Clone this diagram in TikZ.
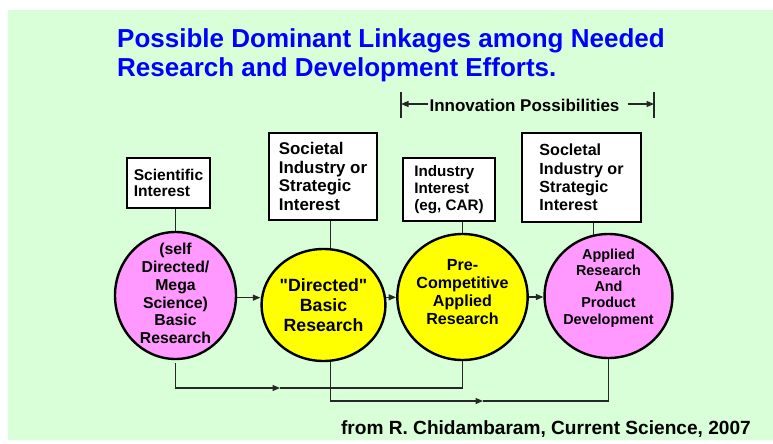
\documentclass[tikz,border=0pt]{standalone}
\usepackage{fontspec}
\setmainfont{Liberation Sans}
\usepackage{xcolor}
\usetikzlibrary{arrows.meta, positioning, calc, shapes.geometric}
\definecolor{pagegreen}{RGB}{217, 255, 217}
\definecolor{titleblue}{RGB}{0, 0, 255}
\definecolor{effortpink}{RGB}{255, 153, 255}
\definecolor{effortyellow}{RGB}{255, 255, 0}
\newcommand{\fsz}[2]{\fontsize{#1}{#2}\selectfont}

\begin{document}
\begin{tikzpicture}[
    x=1pt, y=-1pt,
    interest/.style={rectangle, draw=black, fill=white, line width=2.4pt,
                     align=left, inner sep=0pt},
    effort/.style={ellipse, draw=black, line width=2.4pt, align=center,
                   inner xsep=0pt, inner ysep=-25pt},
    arr/.style={-{Triangle[length=7.5pt, width=6pt]}, black!85, line width=1.2pt},
    link/.style={black!85, line width=1.2pt},
    lbl/.style={font=\bfseries}
  ]

  % Page
  \useasboundingbox (0,0) rectangle (773,444);
  \fill[pagegreen] (8,10) rectangle (773,440);

  % Title
  \node[anchor=north west, inner sep=0pt, align=left, text=titleblue,
        font=\bfseries\fsz{26}{29}] (title) at (117,28)
        {Possible Dominant Linkages among Needed\\Research and Development Efforts.};

  % Innovation bracket
  \node[lbl, font=\bfseries\fsz{17}{19}, anchor=base, inner sep=1pt] (innov)
        at (524.5,111) {Innovation Possibilities};
  \coordinate (innovL) at (401,104);
  \coordinate (innovR) at (654,104);
  \draw[link] ([yshift=12pt]innovL) -- ([yshift=-14pt]innovL);
  \draw[link] ([yshift=12pt]innovR) -- ([yshift=-14pt]innovR);
  \draw[arr] (innovL -| innov.west) -- (innovL);
  \draw[arr] ([xshift=7pt]innovR -| innov.east) -- (innovR);

  % Interests
  \node[interest, font=\bfseries\fsz{15.6}{16.7}, minimum width=83, minimum height=50]
        (b1) at (168.5,183) {Scientific\\Interest};
  \node[interest, font=\bfseries\fsz{16.9}{18.8}, minimum width=108, minimum height=87]
        (b2) at (323,176.5) {Societal\\Industry or\\Strategic\\Interest};
  \node[interest, font=\bfseries\fsz{15.2}{17.3}, minimum width=92, minimum height=63]
        (b3) at (449,189.5) {Industry\\Interest\\(eg, CAR)};
  \node[interest, font=\bfseries\fsz{16.1}{18.2}, minimum width=119, minimum height=89]
        (b4) at (581.5,177.5) {Socletal\\Industry or\\Strategic\\Interest};

  % Efforts
  \node[effort, fill=effortpink, font=\bfseries\fsz{15.8}{17.8}, text depth=4pt,
        minimum width=121, minimum height=127]
        (e1) at (175.5,295.5) {(self\\Directed/\\Mega\\Science)\\Basic\\Research};
  \node[effort, fill=effortyellow, font=\bfseries\fsz{17.7}{20.3},
        minimum width=107, minimum height=112]
        (e2) at (323.5,305) {\textquotedbl Directed\textquotedbl\\Basic\\Research};
  \node[effort, fill=effortyellow, font=\bfseries\fsz{16.1}{17.8}, text depth=10pt,
        minimum width=119, minimum height=126]
        (e3) at (462.5,297) {Pre-\\Competitive\\Applied\\Research};
  \node[effort, fill=effortpink, font=\bfseries\fsz{14.4}{16.25}, text depth=19pt,
        minimum width=119, minimum height=124]
        (e4) at (608.5,296) {Applied\\Research\\And\\Product\\Development};

  % Interest -> effort
  \draw[link] (e1.north) -- (e1.north |- b1.south);
  \draw[link] (e2.83) -- (e2.83 |- b2.south);
  \draw[link] (e3.north) -- (e3.north |- b3.south);
  \draw[link] (e4.104) -- (e4.104 |- b4.south);

  % Effort chain
  \draw[arr] (e1.-2) -- (e1.-2 -| e2.west);
  \draw[arr] (e2.7) -- (e2.7 -| e3.west);
  \draw[arr] (e3.east) -- (e3.east -| e4.west);

  % Bypass links
  \coordinate (skipA) at (280,388);
  \coordinate (skipB) at (483,401);
  \draw[arr] ([yshift=-3pt]e1.south) |- (skipA);
  \draw[link] (skipA) -| (e3.south);
  \draw[arr] (e2.-83) |- (skipB);
  \draw[link] (skipB) -| (e4.south);

  % Source
  \node[lbl, font=\bfseries\fsz{19.1}{21}, anchor=base east, inner sep=0pt] (source)
        at (751,434) {from R. Chidambaram, Current Science, 2007};

\end{tikzpicture}
\end{document}
